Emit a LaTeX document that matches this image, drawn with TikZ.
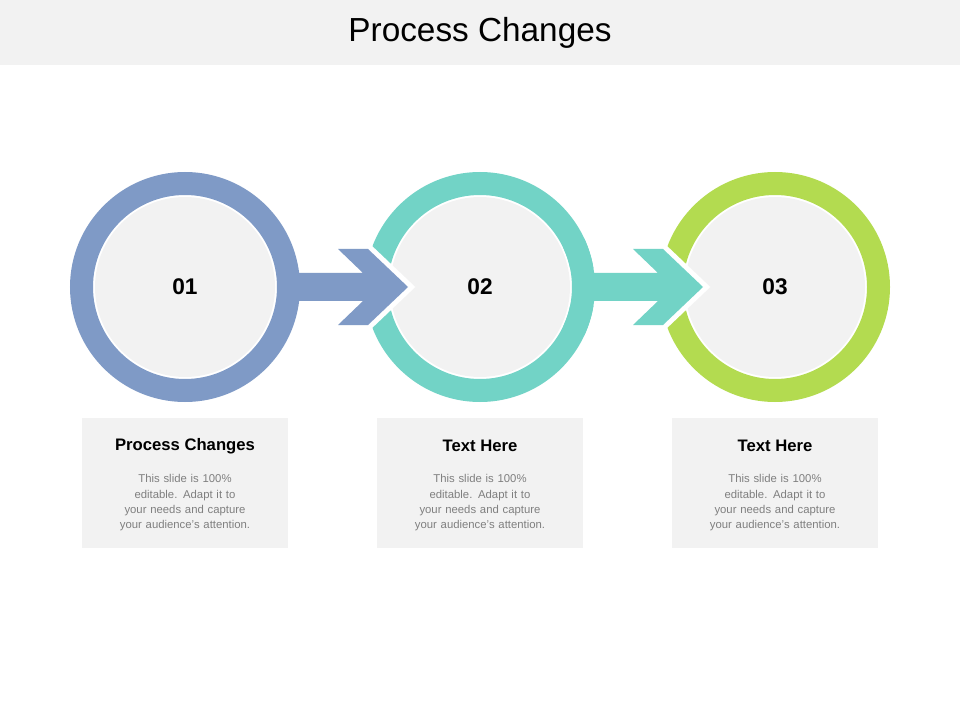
\documentclass[tikz,border=0pt]{standalone}
\usepackage{fontspec}
\setmainfont{Liberation Sans}
\hyphenpenalty=10000
\exhyphenpenalty=10000
\definecolor{cb}{HTML}{7F9AC6}
\definecolor{ct}{HTML}{72D3C6}
\definecolor{cg}{HTML}{B3DB50}
\definecolor{lg}{HTML}{F2F2F2}
\definecolor{tg}{HTML}{7F7F7F}
\begin{document}
\begin{tikzpicture}[x=0.75pt,y=-0.75pt,
  ring/.style={line width=17.25pt},
  inner/.style={fill=lg},
  num/.style={font=\fontsize{17}{20}\selectfont\bfseries},
  box/.style={fill=lg,minimum width=154.5pt,minimum height=97.5pt,inner sep=0},
  head/.style={font=\fontsize{12.5}{15}\selectfont\bfseries},
  body/.style={font=\fontsize{8.5}{11.5}\selectfont,text=tg,align=center,text width=112pt}]
\useasboundingbox (0,0) rectangle (960,720);
\fill[lg] (0,0) rectangle (960,65);
\node (title) at (480,33) {\fontsize{25}{30}\selectfont Process Changes};
\def\arr#1#2{%
 \path[fill=#2,draw=white,line width=7.5pt,line join=miter]
  (#1-25,273) -- (#1+58,273) -- (#1+33,249) -- (#1+63,249) -- (#1+103,287)
  -- (#1+63,325) -- (#1+33,325) -- (#1+58,301) -- (#1-25,301) -- cycle;
 \fill[#2] (#1-25,273) -- (#1+58,273) -- (#1+33,249) -- (#1+63,249) -- (#1+103,287)
  -- (#1+63,325) -- (#1+33,325) -- (#1+58,301) -- (#1-25,301) -- cycle;}
\draw[ring,cg] (775,287) circle (103.5);
\fill[inner] (775,287) circle (90);
\draw[ring,ct] (480,287) circle (103.5);
\fill[inner] (480,287) circle (90);
\arr{600}{ct}
\draw[ring,ct] (480,287) ++(-25:103.5) arc (-25:25:103.5);
\arr{305}{cb}
\draw[ring,cb] (185,287) circle (103.5);
\fill[inner] (185,287) circle (90);
\node[num] (n1) at (185,287) {01};
\node[num] (n2) at (480,287) {02};
\node[num] (n3) at (775,287) {03};
\foreach \x/\t/\n in {185/Process Changes/b1,480/Text Here/b2,775/Text Here/b3}{
  \node[box] (\n) at (\x,483) {};
  \node[head] at (\x,446) {\t};
  \node[body,anchor=north] at (\x,470) {This slide is 100\% editable. Adapt it to your needs and capture your audience's attention.};
}
\end{tikzpicture}
\end{document}
